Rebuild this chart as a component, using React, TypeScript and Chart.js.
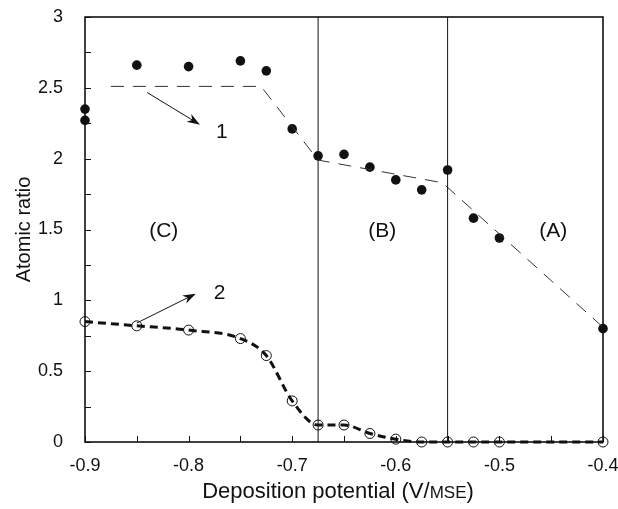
import React, { useEffect, useRef } from "react";
import { Chart, registerables } from "chart.js";

Chart.register(...registerables);

// ---- data ----
const potentialsFilled = [-0.9, -0.9, -0.85, -0.8, -0.75, -0.725, -0.7, -0.675, -0.65, -0.625, -0.6, -0.575, -0.55, -0.525, -0.5, -0.4];
const ratioFilled = [2.35, 2.27, 2.66, 2.65, 2.69, 2.62, 2.21, 2.02, 2.03, 1.94, 1.85, 1.78, 1.92, 1.58, 1.44, 0.8];

const potentialsOpen = [-0.9, -0.85, -0.8, -0.75, -0.725, -0.7, -0.675, -0.65, -0.625, -0.6, -0.575, -0.55, -0.525, -0.5, -0.4];
const ratioOpen = [0.85, 0.82, 0.79, 0.73, 0.61, 0.29, 0.12, 0.12, 0.06, 0.02, 0.0, 0.0, 0.0, 0.0, 0.0];

const trendX = [-0.875, -0.73, -0.675, -0.555, -0.4];
const trendY = [2.51, 2.51, 1.99, 1.83, 0.81];

const boundaryPotentials = [-0.675, -0.55];

const regionLabels = ["(C)", "(B)", "(A)"];
const regionX = [-0.824, -0.613, -0.448];
const regionY = [1.49, 1.49, 1.49];

const arrowLabels = ["1", "2"];
const arrowFromX = [-0.84, -0.85];
const arrowFromY = [2.467, 0.84];
const arrowToX = [-0.789, -0.793];
const arrowToY = [2.24, 1.047];
const arrowLabelX = [-0.768, -0.77];
const arrowLabelY = [2.19, 1.05];

const xMin = -0.9;
const xMax = -0.4;
const yMin = 0;
const yMax = 3;
const xMinorTicks = [-0.9, -0.85, -0.8, -0.75, -0.7, -0.65, -0.6, -0.55, -0.5, -0.45, -0.4];
const yMinorTicks = [0, 0.25, 0.5, 0.75, 1, 1.25, 1.5, 1.75, 2, 2.25, 2.5, 2.75, 3];

const xTitleMain = "Deposition potential (V/";
const xTitleSmall = "MSE";
const xTitleEnd = ")";
const yTitle = "Atomic ratio";

const FONT = "'Liberation Sans', Arial, Helvetica, sans-serif";

const decorPlugin = {
  id: "decor",
  afterDraw(chart: any) {
    const ctx = chart.ctx;
    const xs = chart.scales.x;
    const ys = chart.scales.y;
    const area = chart.chartArea;
    ctx.save();

    // frame
    ctx.strokeStyle = "#111";
    ctx.lineWidth = 1.6;
    ctx.strokeRect(area.left, area.top, area.right - area.left, area.bottom - area.top);

    // inward ticks
    ctx.lineWidth = 1;
    ctx.beginPath();
    xMinorTicks.forEach((v) => {
      const px = Math.round(xs.getPixelForValue(v)) + 0.5;
      ctx.moveTo(px, area.bottom);
      ctx.lineTo(px, area.bottom - 6);
    });
    yMinorTicks.forEach((v) => {
      const py = Math.round(ys.getPixelForValue(v)) + 0.5;
      ctx.moveTo(area.left, py);
      ctx.lineTo(area.left + 6, py);
    });
    ctx.stroke();

    // arrows
    ctx.fillStyle = "#111";
    ctx.strokeStyle = "#111";
    arrowLabels.forEach((lab, i) => {
      const x0 = xs.getPixelForValue(arrowFromX[i]);
      const y0 = ys.getPixelForValue(arrowFromY[i]);
      const x1 = xs.getPixelForValue(arrowToX[i]);
      const y1 = ys.getPixelForValue(arrowToY[i]);
      const ang = Math.atan2(y1 - y0, x1 - x0);
      const L = 13;
      const W = 4.5;
      ctx.lineWidth = 1;
      ctx.beginPath();
      ctx.moveTo(x0, y0);
      ctx.lineTo(x1 - Math.cos(ang) * 6, y1 - Math.sin(ang) * 6);
      ctx.stroke();
      const bx = x1 - Math.cos(ang) * L;
      const by = y1 - Math.sin(ang) * L;
      const nx = -Math.sin(ang);
      const ny = Math.cos(ang);
      const ix = x1 - Math.cos(ang) * L * 0.7;
      const iy = y1 - Math.sin(ang) * L * 0.7;
      ctx.beginPath();
      ctx.moveTo(x1, y1);
      ctx.lineTo(bx + nx * W, by + ny * W);
      ctx.lineTo(ix, iy);
      ctx.lineTo(bx - nx * W, by - ny * W);
      ctx.closePath();
      ctx.fill();

      ctx.font = `21px ${FONT}`;
      ctx.textAlign = "center";
      ctx.textBaseline = "middle";
      ctx.fillText(lab, xs.getPixelForValue(arrowLabelX[i]), ys.getPixelForValue(arrowLabelY[i]));
    });

    // region labels
    ctx.font = `21px ${FONT}`;
    ctx.textAlign = "center";
    ctx.textBaseline = "middle";
    regionLabels.forEach((lab, i) => {
      ctx.fillText(lab, xs.getPixelForValue(regionX[i]), ys.getPixelForValue(regionY[i]));
    });

    // x title with small caps
    const bigF = `22px ${FONT}`;
    const smallF = `17px ${FONT}`;
    ctx.font = bigF;
    const w1 = ctx.measureText(xTitleMain).width;
    const w3 = ctx.measureText(xTitleEnd).width;
    ctx.font = smallF;
    const w2 = ctx.measureText(xTitleSmall).width;
    const total = w1 + w2 + w3;
    let tx = (area.left + area.right) / 2 - total / 2 - 6;
    const ty = 498;
    ctx.textAlign = "left";
    ctx.textBaseline = "alphabetic";
    ctx.font = bigF;
    ctx.fillText(xTitleMain, tx, ty);
    tx += w1;
    ctx.font = smallF;
    ctx.fillText(xTitleSmall, tx, ty);
    tx += w2;
    ctx.font = bigF;
    ctx.fillText(xTitleEnd, tx, ty);

    // y title
    ctx.save();
    ctx.translate(24, (area.top + area.bottom) / 2);
    ctx.rotate(-Math.PI / 2);
    ctx.font = `20px ${FONT}`;
    ctx.textAlign = "center";
    ctx.textBaseline = "middle";
    ctx.fillText(yTitle, 0, 0);
    ctx.restore();

    ctx.restore();
  },
};

const zeroPad = (s: any) => {
  s.paddingTop = 0;
  s.paddingBottom = 0;
  s.paddingLeft = 0;
  s.paddingRight = 0;
};

export default function App() {
  const ref = useRef<HTMLCanvasElement | null>(null);

  useEffect(() => {
    document.body.style.margin = "0";
    if (!ref.current) return;
    const filled = potentialsFilled.map((x, i) => ({ x, y: ratioFilled[i] }));
    const open = potentialsOpen.map((x, i) => ({ x, y: ratioOpen[i] }));
    const trend = trendX.map((x, i) => ({ x, y: trendY[i] }));
    const bounds = boundaryPotentials.map((b) => ({
      type: "line" as const,
      data: [
        { x: b, y: yMin },
        { x: b, y: yMax },
      ],
      borderColor: "#111",
      borderWidth: 1,
      pointRadius: 0,
      showLine: true,
    }));

    const chart = new Chart(ref.current, {
      type: "scatter",
      data: {
        datasets: [
          ...bounds,
          {
            type: "line",
            data: trend,
            borderColor: "#333",
            borderWidth: 1,
            borderDash: [13, 9],
            pointRadius: 0,
            showLine: true,
          } as any,
          {
            type: "line",
            data: open,
            borderColor: "#111",
            borderWidth: 3,
            borderDash: [8, 5],
            cubicInterpolationMode: "monotone",
            pointRadius: 5,
            pointBorderWidth: 1,
            pointBackgroundColor: "rgba(0,0,0,0)",
            pointBorderColor: "#111",
            showLine: true,
            clip: false,
          } as any,
          {
            type: "scatter",
            data: filled,
            backgroundColor: "#111",
            borderColor: "#111",
            pointRadius: 4.8,
            pointBorderWidth: 0,
            showLine: false,
            clip: false,
          } as any,
        ],
      },
      options: {
        animation: false,
        responsive: false,
        maintainAspectRatio: false,
        layout: { autoPadding: false, padding: { top: 17, right: 15, left: 0, bottom: 0 } },
        plugins: { legend: { display: false }, tooltip: { enabled: false } },
        scales: {
          x: {
            type: "linear",
            min: xMin,
            max: xMax,
            grid: { display: false, drawTicks: false },
            border: { display: false },
            ticks: {
              stepSize: 0.1,
              padding: 13,
              color: "#111",
              font: { family: FONT, size: 18 },
              callback: (v: any) => Number(v).toFixed(1),
            },
            afterFit: (s: any) => {
              s.height = 67;
              zeroPad(s);
            },
          },
          y: {
            type: "linear",
            min: yMin,
            max: yMax,
            grid: { display: false, drawTicks: false },
            border: { display: false },
            ticks: {
              stepSize: 0.5,
              padding: 22,
              color: "#111",
              font: { family: FONT, size: 18 },
              callback: (v: any) => String(+Number(v).toFixed(2)),
            },
            afterFit: (s: any) => {
              s.width = 85;
              zeroPad(s);
            },
          },
        },
      },
      plugins: [decorPlugin],
    });
    return () => chart.destroy();
  }, []);

  return <canvas ref={ref} width={618} height={509} style={{ display: "block" }} />;
}
